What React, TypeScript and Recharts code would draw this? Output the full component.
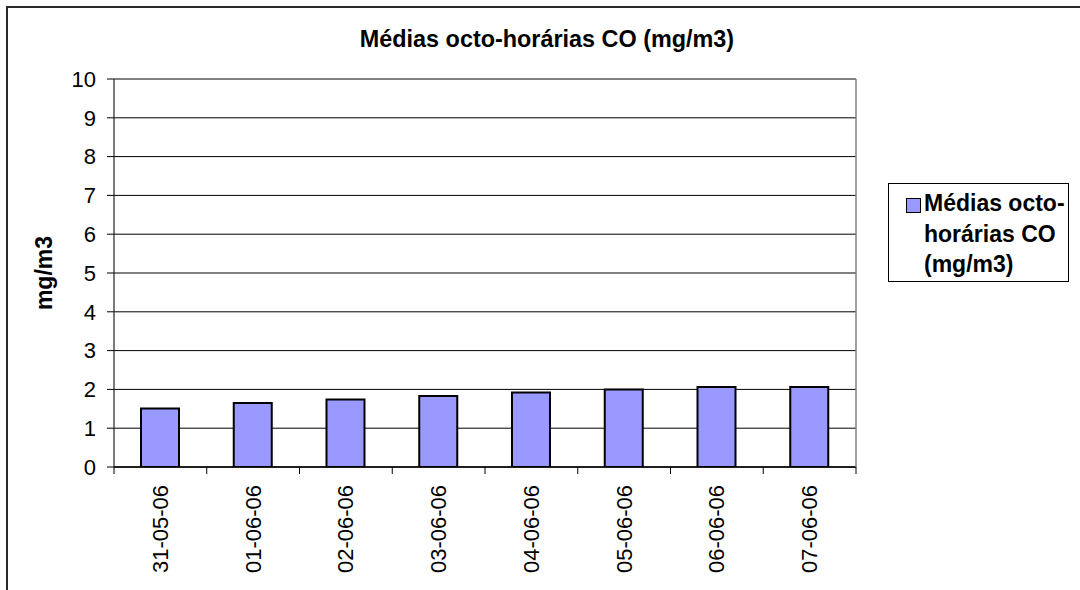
import React from 'react';
import { BarChart, Bar, XAxis, YAxis, CartesianGrid, ReferenceLine, Legend } from 'recharts';

const CATEGORIES = ['31-05-06', '01-06-06', '02-06-06', '03-06-06', '04-06-06', '05-06-06', '06-06-06', '07-06-06'];
const VALUES = [1.51, 1.65, 1.74, 1.83, 1.92, 2.0, 2.06, 2.06];
const Y_TICKS = [0, 1, 2, 3, 4, 5, 6, 7, 8, 9, 10];
const TITLE = 'Médias octo-horárias CO (mg/m3)';
const Y_LABEL = 'mg/m3';
const SERIES_NAME = 'Médias octo-horárias CO (mg/m3)';
const LEGEND_LINES = ['Médias octo-', 'horárias CO', '(mg/m3)'];

const data = CATEGORIES.map((c, i) => ({ date: c, value: VALUES[i] }));

const W = 1080;
const H = 590;
const LEFT_AXIS_W = 114;
const RIGHT_AXIS_W = 10;
const MARGIN = { top: 79, right: 214, bottom: 0, left: 0 };
const PLOT_W = W - LEFT_AXIS_W - RIGHT_AXIS_W - MARGIN.right;
const FONT = 'Arial, "Liberation Sans", sans-serif';

const XTick = (props: any) => {
  const { x, y, payload, index } = props;
  const band = PLOT_W / CATEGORIES.length;
  const ty = y + 18;
  return (
    <g>
      <line x1={x - band / 2} y1={y} x2={x - band / 2} y2={y + 7} stroke="#000" strokeWidth={1} />
      {index === CATEGORIES.length - 1 && (
        <line x1={x + band / 2} y1={y} x2={x + band / 2} y2={y + 7} stroke="#000" strokeWidth={1} />
      )}
      <text
        x={x}
        y={ty}
        transform={`rotate(-90 ${x} ${ty})`}
        textAnchor="end"
        dominantBaseline="central"
        style={{ fontSize: 22, fontFamily: FONT }}
        fill="#000"
      >
        {payload.value}
      </text>
    </g>
  );
};

const YLabel = () => (
  <text
    x={44}
    y={273}
    transform="rotate(-90 44 273)"
    textAnchor="middle"
    dominantBaseline="central"
    style={{ fontSize: 23, fontWeight: 'bold', fontFamily: FONT }}
    fill="#000"
  >
    {Y_LABEL}
  </text>
);

const LegendBox = () => (
  <div
    style={{
      position: 'relative',
      width: 181,
      height: 99,
      boxSizing: 'border-box',
      border: '1px solid #000',
      background: '#fff',
      fontFamily: FONT,
    }}
    title={SERIES_NAME}
  >
    <div
      style={{
        position: 'absolute',
        left: 17,
        top: 14,
        width: 15,
        height: 15,
        boxSizing: 'border-box',
        background: '#9999FF',
        border: '1px solid #000',
      }}
    />
    <div
      style={{
        position: 'absolute',
        left: 35,
        top: 4,
        fontSize: 23,
        fontWeight: 'bold',
        lineHeight: '30.5px',
        color: '#000',
        whiteSpace: 'nowrap',
        textAlign: 'left',
      }}
    >
      {LEGEND_LINES.map((l, i) => (
        <div key={i}>{l}</div>
      ))}
    </div>
  </div>
);

export default function App() {
  return (
    <div
      style={{
        position: 'absolute',
        left: 0,
        top: 0,
        width: W,
        height: H,
        overflow: 'hidden',
        background: '#fff',
        fontFamily: FONT,
      }}
    >
      <div
        style={{
          position: 'absolute',
          left: 6,
          top: 6,
          width: 1200,
          height: 800,
          border: '2px solid #2a2a2a',
        }}
      />
      <div
        style={{
          position: 'absolute',
          left: 247,
          width: 600,
          top: 28,
          textAlign: 'center',
          fontSize: 23.4,
          fontWeight: 'bold',
          lineHeight: '23px',
          color: '#000',
          whiteSpace: 'nowrap',
        }}
      >
        {TITLE}
      </div>
      <div style={{ position: 'absolute', left: 0, top: 0 }}>
        <BarChart width={W} height={H} data={data} margin={MARGIN}>
          <CartesianGrid vertical={false} stroke="#000" strokeWidth={1} />
          <ReferenceLine y={10} stroke="#808080" strokeWidth={1.5} />
          <XAxis
            dataKey="date"
            height={123}
            interval={0}
            tickLine={false}
            tickSize={0}
            tickMargin={0}
            axisLine={{ stroke: '#000', strokeWidth: 1.3 }}
            tick={<XTick />}
          />
          <YAxis
            domain={[0, 10]}
            ticks={Y_TICKS}
            width={LEFT_AXIS_W}
            tickSize={7}
            tickMargin={11}
            axisLine={{ stroke: '#333', strokeWidth: 1.3 }}
            tickLine={{ stroke: '#000' }}
            tick={{ fontSize: 22, fill: '#000', fontFamily: FONT }}
            label={{ content: () => <YLabel /> }}
            allowDataOverflow
          />
          <YAxis
            yAxisId="r"
            orientation="right"
            domain={[0, 10]}
            width={RIGHT_AXIS_W}
            tick={false}
            tickLine={false}
            axisLine={{ stroke: '#808080', strokeWidth: 1.5 }}
          />
          <Legend
            layout="horizontal"
            verticalAlign="middle"
            align="center"
            content={() => <LegendBox />}
            wrapperStyle={{ position: 'absolute', left: 888, top: 183, width: 181, height: 99, margin: 0 }}
          />
          <Bar
            dataKey="value"
            name={SERIES_NAME}
            fill="#9999FF"
            stroke="#000"
            strokeWidth={2}
            barSize={38}
            isAnimationActive={false}
          />
        </BarChart>
      </div>
    </div>
  );
}
